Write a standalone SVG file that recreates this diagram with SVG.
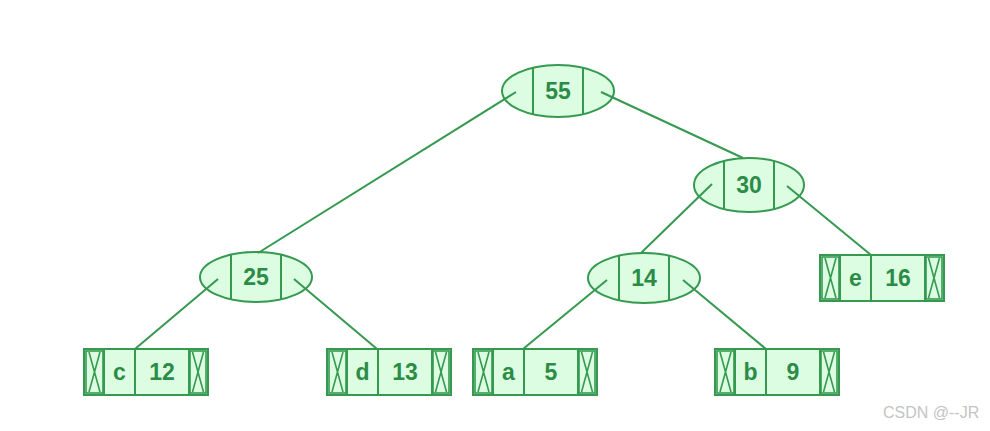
<svg xmlns="http://www.w3.org/2000/svg" width="990" height="431" viewBox="0 0 990 431">
<style>
.sh{fill:#ddfde3;stroke:#35994f;stroke-width:2}
.dv{stroke:#35994f;stroke-width:2;fill:none}
.xc{fill:none;stroke:#35994f;stroke-width:1.6}
.cn line{stroke:#35994f;stroke-width:2}
.t{font-family:"Liberation Sans",Arial,sans-serif;font-weight:bold;font-size:23px;fill:#2b8c46;text-anchor:middle}
.wm{font-family:"Liberation Sans",Arial,sans-serif;font-size:16px;fill:#c4c4c4}
</style>
<defs>
<g id="leaf">
<rect class="sh" x="0" y="0" width="124" height="46"/>
<rect class="xc" x="2" y="2" width="17" height="42"/>
<rect class="xc" x="106" y="2" width="16" height="42"/>
<path class="xc" d="M5,3 L16,43 M16,3 L5,43 M108.5,3 L119.5,43 M119.5,3 L108.5,43"/>
<path class="dv" d="M20,0 V46 M51,0 V46 M105,0 V46"/>
</g>
</defs>
<g id="n55">
<ellipse class="sh" cx="558" cy="91" rx="56" ry="26"/>
<path class="dv" d="M533,67.7 V114.3 M583,67.7 V114.3"/>
<text class="t" x="558" y="99">55</text>
</g>
<g id="n30">
<ellipse class="sh" cx="749" cy="185" rx="55" ry="27"/>
<path class="dv" d="M724,161 V209 M774,161 V209"/>
<text class="t" x="749" y="193">30</text>
</g>
<g id="n25">
<ellipse class="sh" cx="256" cy="277" rx="56" ry="25"/>
<path class="dv" d="M231,254.6 V299.4 M281,254.6 V299.4"/>
<text class="t" x="256" y="285">25</text>
</g>
<g id="n14">
<ellipse class="sh" cx="644" cy="278" rx="56" ry="25"/>
<path class="dv" d="M619,255.6 V300.4 M669,255.6 V300.4"/>
<text class="t" x="644" y="286">14</text>
</g>
<g id="c12" transform="translate(84,349)">
<use href="#leaf"/>
<text class="t" x="35.5" y="31">c</text>
<text class="t" x="78" y="31">12</text>
</g>
<g id="d13" transform="translate(327,349)">
<use href="#leaf"/>
<text class="t" x="35.5" y="31">d</text>
<text class="t" x="78" y="31">13</text>
</g>
<g id="a5" transform="translate(473,349)">
<use href="#leaf"/>
<text class="t" x="35.5" y="31">a</text>
<text class="t" x="78" y="31">5</text>
</g>
<g id="b9" transform="translate(715,349)">
<use href="#leaf"/>
<text class="t" x="35.5" y="31">b</text>
<text class="t" x="78" y="31">9</text>
</g>
<g id="e16" transform="translate(820,255)">
<use href="#leaf"/>
<text class="t" x="35.5" y="31">e</text>
<text class="t" x="78" y="31">16</text>
</g>
<g id="connectors" class="cn">
<line x1="516" y1="92" x2="258" y2="253"/>
<line x1="601" y1="92" x2="743" y2="158"/>
<line x1="712" y1="184" x2="641" y2="253"/>
<line x1="787" y1="186" x2="871" y2="255"/>
<line x1="218" y1="279" x2="135" y2="349"/>
<line x1="294" y1="279" x2="377" y2="349"/>
<line x1="607" y1="280" x2="523" y2="349"/>
<line x1="683" y1="280" x2="766" y2="349"/>
</g>
<text class="wm" x="883" y="418">CSDN @--JR</text>
</svg>
